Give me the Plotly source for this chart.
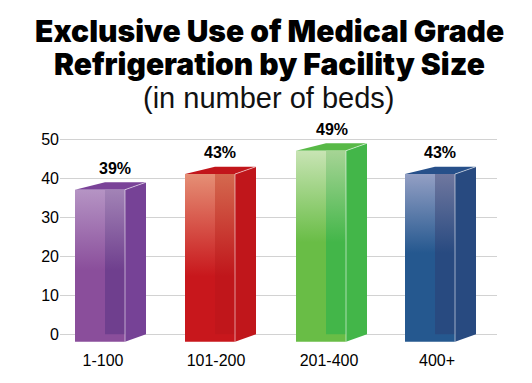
import plotly.graph_objects as go

categories = ["1-100", "101-200", "201-400", "400+"]
values = [39, 43, 49, 43]
labels = ["39%", "43%", "49%", "43%"]
y_ticks = [0, 10, 20, 30, 40, 50]
title_lines = ["Exclusive Use of Medical Grade", "Refrigeration by Facility Size"]
subtitle = "(in number of beds)"

# layout constants (x axis runs in page pixels; the page body has an 8px margin)
PAGE = 8
FIG_W, FIG_H = 532 - PAGE, 383 - PAGE
X0, X1 = 60, 497
PLOT_TOP, PLOT_BOTTOM = 130, 345
bar_left = [75, 185, 296, 405]
label_x = [103, 216, 329, 437]
value_label_x = [115, 220, 332, 440]
W, DX = 50, 21
DY = 1.9          # depth in value units
BASE = 0
INNER = 30

styles = [
    ("#b594c4", "#8a4e9b", 0.53, "#764296", "#7a4398"),
    ("#e58f75", "#c8171c", 0.61, "#c0161b", "#c2161b"),
    ("#c8e4b4", "#69bd46", 0.48, "#43b649", "#58b947"),
    ("#939fc4", "#25588f", 0.47, "#284a80", "#27508a"),
]
inner_styles = [
    ("#a283b6", "#6f3f8e"),
    ("#d4694f", "#c0161b"),
    ("#a6d495", "#43b649"),
    ("#6f779f", "#284a80"),
]

fig = go.Figure()


def poly(xs, ys, **kw):
    fig.add_trace(go.Scatter(x=xs, y=ys, mode="lines", fill="toself", line=dict(width=0),
                             hoverinfo="skip", showlegend=False, **kw))


for i, v in enumerate(values):
    c_top, c_solid, stop, c_side, c_cap = styles[i]
    in_top, in_solid = inner_styles[i]
    L = bar_left[i]
    R = L + W
    ftop = v - DY
    fbot = BASE - DY
    poly([L, L + INNER, R + DX, R], [ftop, v, v, ftop], fillcolor=c_cap)
    poly([R, R + DX, R + DX, R], [fbot, BASE, v, ftop], fillcolor=c_side)
    gs = ftop - (ftop - fbot) * stop
    poly([L, R, R, L, L], [fbot, fbot, ftop, ftop, fbot],
         fillgradient=dict(type="vertical", start=ftop, stop=gs,
                           colorscale=[[0, c_top], [1, c_solid]]))
    poly([L + INNER, R, R, L + INNER, L + INNER], [BASE, BASE, ftop, ftop, BASE],
         fillgradient=dict(type="vertical", start=ftop, stop=gs,
                           colorscale=[[0, in_top], [1, in_solid]]))
    fig.add_trace(go.Scatter(x=[R + DX, R, R], y=[v, ftop, fbot], mode="lines",
                             line=dict(color="rgba(255,255,255,0.55)", width=1),
                             hoverinfo="skip", showlegend=False))

fig.add_trace(go.Scatter(
    x=value_label_x, y=[v + 3.2 for v in values], text=labels, mode="text",
    textposition="middle center",
    textfont=dict(family="Liberation Sans", size=16, color="#000", weight="bold"),
    hoverinfo="skip", showlegend=False, cliponaxis=False))


def page_y(py):
    return (PLOT_BOTTOM - py) / (PLOT_BOTTOM - PLOT_TOP)


TITLE_FONT = dict(family="Inter", size=30, color="#000", weight=900)
fig.update_layout(
    width=FIG_W, height=FIG_H, autosize=False,
    paper_bgcolor="white", plot_bgcolor="white", showlegend=False,
    margin=dict(l=X0 - PAGE, r=FIG_W + PAGE - X1, t=PLOT_TOP - PAGE, b=FIG_H + PAGE - PLOT_BOTTOM),
    font=dict(family="Liberation Sans", color="#000"),
    xaxis=dict(range=[X0, X1], tickvals=label_x, ticktext=categories, showgrid=False, zeroline=False,
               showline=False, ticks="outside", ticklen=1, tickcolor="rgba(0,0,0,0)",
               tickfont=dict(size=16, color="#000")),
    yaxis=dict(range=[-2.74, 52.4], tickvals=y_ticks, showgrid=True, gridcolor="#d2d2d2", gridwidth=1,
               zeroline=False, showline=False, ticks="", tickfont=dict(size=16, color="#000")),
    annotations=[
        dict(text=title_lines[0], xref="x", yref="paper", x=269, xanchor="center",
             y=page_y(30.5), yanchor="middle", showarrow=False, font=TITLE_FONT),
        dict(text=title_lines[1], xref="x", yref="paper", x=269, xanchor="center",
             y=page_y(63.5), yanchor="middle", showarrow=False, font=TITLE_FONT),
        dict(text=subtitle, xref="x", yref="paper", x=268.5, xanchor="center",
             y=page_y(98), yanchor="middle", showarrow=False,
             font=dict(family="Liberation Sans", size=29, color="#111")),
    ],
)

fig.write_html("out.html")
